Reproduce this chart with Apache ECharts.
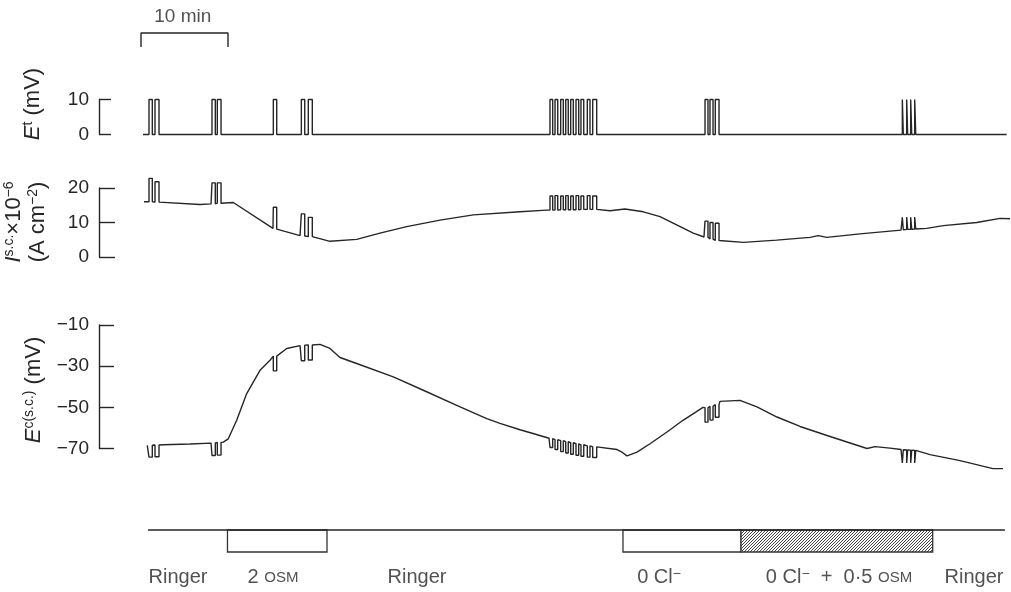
<!DOCTYPE html>
<html>
<head>
<meta charset="utf-8">
<script src="https://cdn.jsdelivr.net/npm/echarts@6/dist/echarts.min.js"></script>
<style>
  html, body { margin: 0; background: #fff; }
  #chart { width: 1011px; height: 592px; }
</style>
</head>
<body>
<div id="chart"></div>
<script>
  // time is in minutes, 0 = left end of the 10 min scale bar
  // start / end of each test pulse
  const pulseTimes = [
    [0.92, 1.30], [1.61, 2.07],
    [8.16, 8.54], [8.77, 9.20],
    [15.21, 15.60],
    [18.43, 18.82], [19.23, 19.69],
    [47.01, 47.32], [47.59, 47.90], [48.24, 48.54], [48.82, 49.11], [49.39, 49.69],
    [50.00, 50.31], [50.57, 50.89], [51.30, 51.61], [51.92, 52.38],
    [64.83, 65.17], [65.40, 65.75], [66.01, 66.44],
    [87.51, 87.62], [88.01, 88.12], [88.47, 88.59], [88.93, 89.05]
  ]

  // E t (mV): flat trace, pulses 0 -> 10
  const etBase = [[0.23, 0], [99.5, 0]]
  const etPulseLevels = pulseTimes.map(() => [0, 10])

  // I s.c. (x10^-6 A cm^-2) between pulses
  const iscBase = [
    [0.34, 16.0], [2.18, 15.8], [6.78, 15.2], [8.05, 15.4], [9.28, 15.8], [10.61, 15.8],
    [15.17, 8.3], [15.63, 7.8], [18.28, 6.2], [19.77, 5.7], [21.72, 4.55], [24.79, 5.1],
    [27.47, 6.9], [30.54, 8.8], [34.37, 10.7], [38.2, 12.2], [43.56, 13.1], [46.63, 13.6],
    [52.53, 13.8], [53.91, 13.4], [55.63, 13.9], [57.74, 13.1], [59.66, 11.7], [61.57, 9.3],
    [63.48, 6.9], [64.71, 5.8], [66.55, 4.4], [69.23, 4.25], [73.07, 4.9], [76.9, 5.7],
    [77.85, 6.2], [78.82, 5.7], [82.64, 6.7], [87.36, 7.8], [89.2, 8.1], [90.31, 8.3],
    [92.22, 9.1], [96.06, 10.0], [98.74, 11.2], [99.89, 11.1]
  ]
  // [base, peak] for each pulse
  const iscPulseLevels = [
    [16.0, 22.8], [15.9, 21.8], [15.4, 21.5], [15.6, 21.5], [8.1, 14.4], [6.1, 12.5], [5.9, 11.5],
    [13.6, 17.7], [13.6, 17.8], [13.7, 17.7], [13.7, 17.8], [13.7, 17.7], [13.7, 17.8],
    [13.8, 17.7], [13.8, 17.8], [13.8, 17.7],
    [5.7, 10.4], [5.2, 10.0], [4.8, 9.8],
    [7.9, 11.5], [8.0, 11.6], [8.0, 11.5], [8.1, 11.6]
  ]

  // E c(s.c.) (mV) between pulses
  const ecBase = [
    [0.72, -68.5], [2.56, -68.2], [5.63, -67.8], [8.05, -67.4], [9.46, -66.9], [10.03, -65.3],
    [11.0, -56.3], [12.15, -43.3], [13.68, -32], [14.83, -27.1], [15.75, -24.6], [16.75, -21.4],
    [18.28, -20.0], [19.77, -19.6], [20.57, -19.4], [21.72, -21.4], [22.87, -25.8], [24.79, -28.7],
    [29.0, -35.2], [32.45, -41.7], [36.29, -49], [39.74, -55.5], [41.26, -57.8], [43.56, -60.9],
    [45.06, -62.7], [46.9, -65.0], [52.53, -69.5], [54.71, -70.5], [55.29, -71.8], [55.86, -73.6],
    [57.01, -71.8], [58.51, -67.7], [60.46, -62], [62.3, -56.3], [64.6, -50.0], [66.55, -47.1],
    [68.85, -46.6], [70.8, -49.8], [73.1, -54.7], [75.75, -59.3], [78.85, -63.7], [83.45, -70],
    [84.37, -69.1], [86.09, -69.8], [87.36, -70.5], [89.2, -71.8], [90.69, -73], [94.14, -75.9],
    [97.93, -79.8], [99.08, -79.8]
  ]
  // [base, trough] for each pulse
  const ecPulseLevels = [
    [-68.4, -74.2], [-68.3, -74.0], [-67.3, -73.4], [-67.1, -73.2], [-25.1, -32.3], [-19.8, -27.4], [-19.7, -27.0],
    [-65.2, -69.5], [-65.7, -70.5], [-66.2, -71.5], [-66.7, -72.2], [-67.2, -72.8], [-67.7, -73.3],
    [-68.2, -73.8], [-68.7, -74.2], [-69.2, -74.4],
    [-50.2, -57.2], [-49.5, -56.2], [-48.7, -54.8],
    [-70.6, -77], [-70.7, -77], [-70.8, -77], [-70.9, -77]
  ]

  // solution changes: [start, end, hatched]
  const solutionBoxes = [[9.94, 21.38, 0], [55.4, 68.97, 0], [68.97, 91.0, 1]]
  const solutionLine = [[0.8, 1], [99.3, 1]]
  const solutionLabelTimes = [4.25, 15.17, 31.72, 59.54, 80.23, 95.75]
  const solutionNames = ['Ringer', '2 {sc|OSM}', 'Ringer', '0 Cl{s|−}', '0 Cl{s|−}  +  0·5 {sc|OSM}', 'Ringer']

  const scaleBar = [[0, 0], [0, 1], [10, 1], [10, 0]]

  const FONT = '"Liberation Sans", Arial, sans-serif'
  const INK = '#262626'

  /** merge baseline points with square pulses */
  const buildTrace = (base, levels) => {
    const blocks = base.map((p) => [p])
    pulseTimes.forEach((t, i) => {
      const [b, peak] = levels[i]
      blocks.push([[t[0], b], [t[0], peak], [t[1], peak], [t[1], b]])
    })
    blocks.sort((a, b) => a[0][0] - b[0][0])
    return blocks.flat()
  }

  // hatch for the 0 Cl- + 0.5 osm period
  const hatch = document.createElement('canvas')
  hatch.width = 3
  hatch.height = 3
  const hctx = hatch.getContext('2d')
  hctx.fillStyle = '#fff'
  hctx.fillRect(0, 0, 3, 3)
  hctx.strokeStyle = '#444'
  hctx.lineWidth = 1
  hctx.beginPath()
  hctx.moveTo(0, 3); hctx.lineTo(3, 0)
  hctx.moveTo(-1, 1); hctx.lineTo(1, -1)
  hctx.moveTo(2, 4); hctx.lineTo(4, 2)
  hctx.stroke()

  const grids = [
    { top: 33, height: 14 },
    { top: 99.5, height: 35 },
    { top: 188, height: 69 },
    { top: 325, height: 123.5 },
    { top: 530, height: 22 }
  ].map((g) => ({ ...g, left: 141, width: 870, containLabel: false, outerBoundsMode: 'none' }))

  const xAxes = grids.map((g, i) => ({ type: 'value', gridIndex: i, min: 0, max: 100, show: false }))

  const traceAxis = (gridIndex, min, max, interval, tickLen) => ({
    type: 'value',
    gridIndex,
    min,
    max,
    interval,
    position: 'left',
    offset: 42,
    axisLine: { show: true, onZero: false, lineStyle: { color: INK, width: 1.4 } },
    axisTick: { show: true, inside: true, length: tickLen, lineStyle: { color: INK, width: 1.4 } },
    axisLabel: {
      color: INK,
      fontSize: 19,
      fontFamily: FONT,
      margin: 10,
      showMinLabel: true,
      showMaxLabel: true,
      formatter: (v) => String(v).replace('-', '−')
    },
    splitLine: { show: false }
  })

  const yAxes = [
    { type: 'value', gridIndex: 0, min: 0, max: 1, show: false },
    traceAxis(1, 0, 10, 10, 12),
    traceAxis(2, 0, 20, 10, 16),
    traceAxis(3, -70, -10, 20, 15),
    { type: 'value', gridIndex: 4, min: 0, max: 1, show: false }
  ]

  const lineSeries = (idx, data, width) => ({
    type: 'line',
    xAxisIndex: idx,
    yAxisIndex: idx,
    data,
    symbol: 'none',
    clip: false,
    silent: true,
    lineStyle: { color: INK, width: width || 1.4 }
  })

  const sup = { fontSize: 14, fontFamily: FONT, fill: INK, verticalAlign: 'top', lineHeight: 24 }
  const titleRich = {
    i: { fontSize: 22, fontFamily: FONT, fontStyle: 'italic', fill: INK, lineHeight: 24 },
    n: { fontSize: 22, fontFamily: FONT, fill: INK, lineHeight: 24 },
    s: sup
  }

  const chart = echarts.init(document.getElementById('chart'))
  chart.setOption({
    animation: false,
    backgroundColor: '#fff',
    grid: grids,
    xAxis: xAxes,
    yAxis: yAxes,
    graphic: [
      {
        type: 'text', x: 33, y: 104, rotation: Math.PI / 2,
        style: { text: '{i|E}{s|t}{n| (mV)}', rich: titleRich, align: 'center', verticalAlign: 'middle' }
      },
      {
        type: 'text', x: 26, y: 222, rotation: Math.PI / 2,
        style: {
          text: '{i|I}{s|s.c.}{n|×10}{s|−6}\n{n|(A cm}{s|−2}{n|)}',
          rich: titleRich, align: 'center', verticalAlign: 'middle'
        }
      },
      {
        type: 'text', x: 34, y: 390, rotation: Math.PI / 2,
        style: { text: '{i|E}{s|c(s.c.)}{n| (mV)}', rich: titleRich, align: 'center', verticalAlign: 'middle' }
      }
    ],
    series: [
      lineSeries(0, scaleBar, 1.4),
      {
        type: 'scatter', xAxisIndex: 0, yAxisIndex: 0, symbolSize: 0, clip: false, silent: true,
        data: [{ value: [4.8, 2.14], name: '10 min' }],
        label: { show: true, position: 'inside', formatter: (p) => p.name, color: INK, fontSize: 19, fontFamily: FONT }
      },
      lineSeries(1, buildTrace(etBase, etPulseLevels)),
      lineSeries(2, buildTrace(iscBase, iscPulseLevels)),
      lineSeries(3, buildTrace(ecBase, ecPulseLevels)),
      {
        type: 'custom',
        xAxisIndex: 4,
        yAxisIndex: 4,
        silent: true,
        clip: false,
        data: solutionBoxes,
        encode: { x: [0, 1] },
        renderItem: (params, api) => {
          const p0 = api.coord([api.value(0), 1])
          const p1 = api.coord([api.value(1), 0])
          return {
            type: 'rect',
            shape: { x: p0[0], y: p0[1], width: p1[0] - p0[0], height: p1[1] - p0[1] },
            style: {
              fill: api.value(2) ? { image: hatch, repeat: 'repeat' } : '#fff',
              stroke: '#333',
              lineWidth: 1.3
            }
          }
        }
      },
      lineSeries(4, solutionLine, 1.4),
      {
        type: 'scatter', xAxisIndex: 4, yAxisIndex: 4, symbolSize: 0, clip: false, silent: true,
        data: solutionLabelTimes.map((t, i) => ({ value: [t, -1.18], name: solutionNames[i] })),
        label: {
          show: true,
          position: 'inside',
          formatter: (p) => p.name,
          color: INK,
          fontSize: 20,
          fontFamily: FONT,
          rich: {
            sc: { fontSize: 15, fontFamily: FONT, color: INK },
            s: { fontSize: 14, fontFamily: FONT, color: INK, verticalAlign: 'top', lineHeight: 22 }
          }
        }
      }
    ]
  })
</script>
</body>
</html>
